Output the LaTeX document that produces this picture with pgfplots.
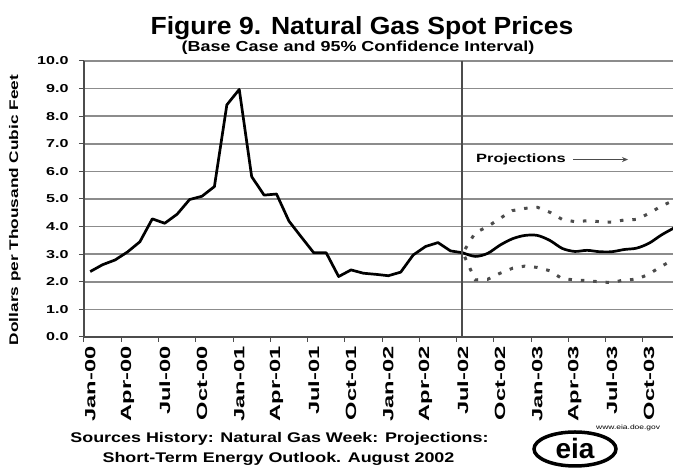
\documentclass[border=0pt]{standalone}
\usepackage{fontspec}
\setmainfont{Liberation Sans}
\usepackage{pgfplots}
\pgfplotsset{compat=1.18}
\usetikzlibrary{arrows.meta}
\newfontfamily\fTitle[FakeStretch=1.07]{Liberation Sans}
\newfontfamily\fSub[FakeStretch=1.24]{Liberation Sans}
\newfontfamily\fTick[FakeStretch=1.4]{Liberation Sans}
\newfontfamily\fXTick[FakeStretch=1.6]{Liberation Sans}
\newfontfamily\fYLab[FakeStretch=1.38]{Liberation Sans}
\newfontfamily\fSrc[FakeStretch=1.28]{Liberation Sans}
\newfontfamily\fProj[FakeStretch=1.37]{Liberation Sans}
\newfontfamily\fTiny[FakeStretch=1.3]{Liberation Sans}
\definecolor{gridc}{gray}{0.55}
\definecolor{axisc}{gray}{0.3}
\definecolor{dotc}{gray}{0.3}
\begin{document}
\begin{tikzpicture}
\useasboundingbox (0,0) rectangle (673pt,470pt);
\begin{axis}[
  at={(84pt,133pt)}, anchor=south west,
  scale only axis, width=589pt, height=276pt,
  xmin=0, xmax=47.42, ymin=0, ymax=10,
  axis lines=left,
  axis line style={-, line width=1.4pt, axisc},
  ytick={0,1,...,10},
  ymajorgrids,
  grid style={line width=1.7pt, gridc},
  xtick={0,3,...,45},
  xticklabels={},
  extra x ticks={0.5,3.5,...,45.5},
  extra x tick labels={Jan-00,Apr-00,Jul-00,Oct-00,Jan-01,Apr-01,Jul-01,Oct-01,Jan-02,Apr-02,Jul-02,Oct-02,Jan-03,Apr-03,Jul-03,Oct-03},
  extra x tick style={major tick length=0pt},
  tick align=outside,
  major tick length=5pt,
  tick style={line width=1pt, axisc},
  yticklabel style={font=\fTick\bfseries\fontsize{11.5}{13}\selectfont, anchor=east, xshift=-7pt},
  xticklabel style={font=\fXTick\bfseries\fontsize{14.8}{17}\selectfont, rotate=90, anchor=east, xshift=-6pt},
  /pgf/number format/fixed,
  /pgf/number format/fixed zerofill,
  /pgf/number format/precision=1,
  /pgf/number format/assume math mode=true,
]
% history
\addplot[line width=2.7pt, black, line join=round] coordinates {
(0.5,2.37) (1.5,2.62) (2.5,2.79) (3.5,3.08) (4.5,3.45) (5.5,4.28) (6.5,4.12)
(7.5,4.45) (8.5,4.98) (9.5,5.10) (10.5,5.45) (11.5,8.41) (12.5,8.97) (13.5,5.81)
(14.5,5.14) (15.5,5.18) (16.5,4.20) (17.5,3.62) (18.5,3.05) (19.5,3.05) (20.5,2.19)
(21.5,2.43) (22.5,2.31) (23.5,2.27) (24.5,2.22) (25.5,2.35) (26.5,2.97) (27.5,3.28)
(28.5,3.42) (29.5,3.12) (30.5,3.05)
};
% base case projection
\addplot[line width=2.7pt, black, smooth, tension=0.5] coordinates {
(30.5,3.05) (31.5,2.92) (32.5,3.03) (33.5,3.33) (34.5,3.56) (35.5,3.68) (36.5,3.68)
(37.5,3.50) (38.5,3.21) (39.5,3.10) (40.5,3.14) (41.5,3.09) (42.5,3.09) (43.5,3.17)
(44.5,3.22) (45.5,3.40) (46.5,3.70) (47.5,3.95)
};
% upper 95%
\addplot[line width=3pt, dotc, dash pattern=on 3.5pt off 8.9pt, dash phase=8pt] coordinates {
(30.5,3.05) (31.5,3.78) (32.5,4.00) (33.5,4.30) (34.5,4.58) (35.5,4.66) (36.5,4.70)
(37.5,4.52) (38.5,4.26) (39.5,4.18) (40.5,4.21) (41.5,4.18) (42.5,4.16) (43.5,4.24)
(44.5,4.26) (45.5,4.48) (46.5,4.75) (47.5,4.95)
};
% lower 95%
\addplot[line width=3pt, dotc, dash pattern=on 3.5pt off 8.9pt, dash phase=8pt] coordinates {
(30.5,3.05) (31.5,2.07) (32.5,2.09) (33.5,2.31) (34.5,2.49) (35.5,2.57) (36.5,2.52)
(37.5,2.40) (38.5,2.11) (39.5,2.07) (40.5,2.04) (41.5,2.00) (42.5,1.97) (43.5,2.07)
(44.5,2.09) (45.5,2.28) (46.5,2.57) (47.5,2.80)
};
\draw[line width=1.4pt, axisc] (axis cs:30.43,0) -- (axis cs:30.43,10);
\node[anchor=base west, font=\fProj\bfseries\fontsize{12}{14}\selectfont, inner sep=0pt] at (axis cs:31.56,6.34) {Projections};
\draw[line width=1.6pt, axisc, -{Stealth[length=6pt,width=5pt]}] (axis cs:39.4,6.43) -- (axis cs:43.8,6.43);
\end{axis}
\node[anchor=base, font=\fTitle\bfseries\fontsize{24.8}{28}\selectfont, inner sep=0pt] at (362pt,435.5pt) {Figure 9. Natural Gas Spot Prices};
\node[anchor=base, font=\fSub\bfseries\fontsize{14.5}{17}\selectfont, inner sep=0pt] at (358pt,418.5pt) {(Base Case and 95\% Confidence Interval)};
\node[rotate=90, font=\fYLab\bfseries\fontsize{12.5}{14}\selectfont, inner sep=0pt] at (15pt,260pt) {Dollars per Thousand Cubic Feet};
\node[anchor=base, font=\fSrc\bfseries\fontsize{14}{16}\selectfont, inner sep=0pt] at (279.5pt,27pt) {Sources History: Natural Gas Week: Projections:};
\node[anchor=base, font=\fSrc\bfseries\fontsize{14}{16}\selectfont, inner sep=0pt] at (278.5pt,7pt) {Short-Term Energy Outlook. August 2002};
% eia logo
\draw[line width=3.5pt] (575pt,21pt) ellipse [x radius=41pt, y radius=17pt];
\node[font=\bfseries\fontsize{28}{30}\selectfont, inner sep=0pt] at (575pt,22pt) {eia};
\node[font=\fTiny\fontsize{6.5}{7}\selectfont, anchor=west, inner sep=0pt] at (596pt,42pt) {www.eia.doe.gov};
\end{tikzpicture}
\end{document}
